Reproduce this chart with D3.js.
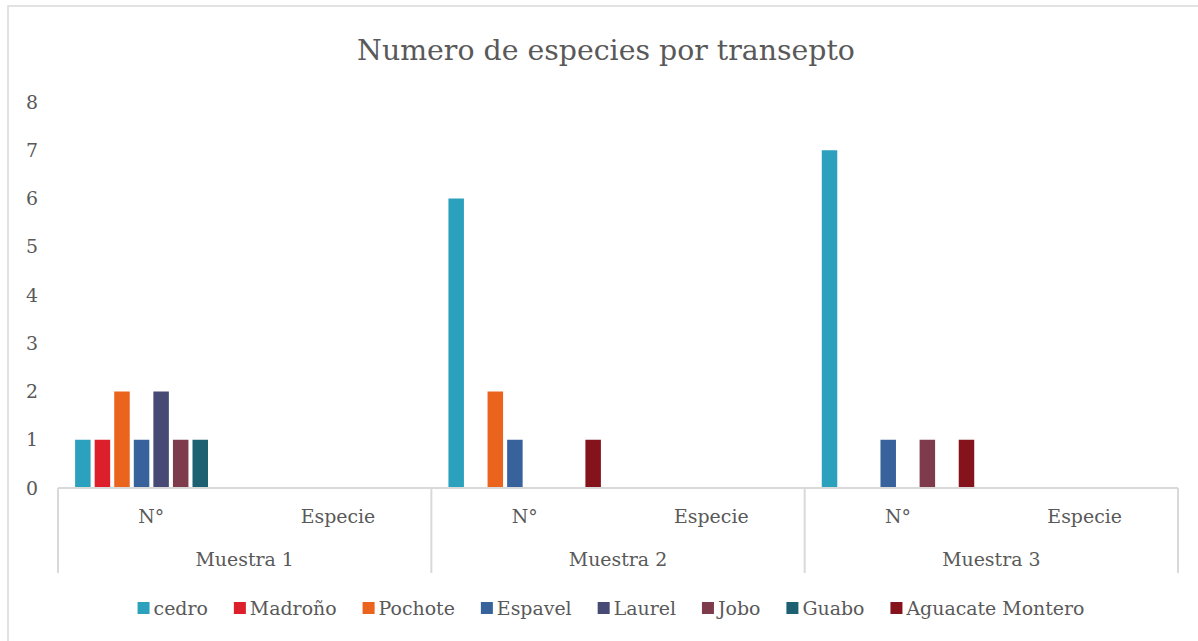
<!DOCTYPE html>
<html>
<head>
<meta charset="utf-8">
<script src="https://cdn.jsdelivr.net/npm/d3@7"></script>
<style>
  html, body { margin: 0; padding: 0; background: #fff; }
  svg { display: block; }
</style>
</head>
<body>
<svg id="chart" width="1198" height="641"></svg>
<script>
// muestras (outer level) and sub-categories (inner level)
const groups = ['Muestra 1', 'Muestra 2', 'Muestra 3'];
const subCats = ['N°', 'Especie'];

const series = ['cedro', 'Madroño', 'Pochote', 'Espavel', 'Laurel', 'Jobo', 'Guabo', 'Aguacate Montero'];
const colors = ['#2ca1be', '#dc1f2b', '#ea641e', '#38629b', '#464a75', '#7d3b4b', '#1c6072', '#84131b'];

// values per series, one per group (N° only; Especie rows are empty)
const cedro    = [1, 6, 7];
const madrono  = [1, null, null];
const pochote  = [2, 2, null];
const espavel  = [1, 1, 1];
const laurel   = [2, null, null];
const jobo     = [1, null, 1];
const guabo    = [1, null, null];
const aguacate = [null, 1, 1];
const seriesValues = [cedro, madrono, pochote, espavel, laurel, jobo, guabo, aguacate];

const yTicks = [0, 1, 2, 3, 4, 5, 6, 7, 8];

const svg = d3.select('#chart');
const textColor = '#595959';
const lineColor = '#d9d9d9';
const font = "'DejaVu Serif', 'Liberation Serif', serif";

// chart border (only top/left visible in the picture)
svg.append('path')
  .attr('d', 'M8,641 L8,6 L1198,6')
  .attr('fill', 'none')
  .attr('stroke', lineColor)
  .attr('stroke-width', 1.5);

// title - sized so its width matches the original (Garamond is narrow)
const title = svg.append('text')
  .attr('x', 606)
  .attr('y', 60)
  .attr('text-anchor', 'middle')
  .attr('font-family', font)
  .attr('font-size', '30px')
  .attr('fill', textColor)
  .text('Numero de especies por transepto');
const fit = Math.min(1.15, 498 / title.node().getComputedTextLength());
title.attr('font-size', (30 * fit) + 'px');
const labelSize = Math.min(19, 20 * fit) + 'px';

// scales
const plotLeft = 58, plotRight = 1178, plotBase = 488, plotTop = 102;
const cats = [];
groups.forEach(g => subCats.forEach(s => cats.push(g + '|' + s)));

const x0 = d3.scaleBand().domain(cats).range([plotLeft, plotRight]).padding(0);
const x1 = d3.scaleBand().domain(series).range([0, x0.bandwidth()])
  .paddingInner(0.208).paddingOuter(0.874);
const y = d3.scaleLinear().domain([0, 8]).range([plotBase, plotTop]);

// y tick labels (no gridlines)
svg.append('g').selectAll('text')
  .data(yTicks)
  .enter().append('text')
    .attr('x', 38)
    .attr('y', d => y(d))
    .attr('dy', '0.35em')
    .attr('text-anchor', 'end')
    .attr('font-family', font)
    .attr('font-size', labelSize)
    .attr('fill', textColor)
    .text(d => d);

// bars
const barData = [];
series.forEach((s, i) => {
  seriesValues[i].forEach((v, gi) => {
    if (v != null) barData.push({ series: s, cat: groups[gi] + '|N°', value: v, color: colors[i] });
  });
});

svg.append('g').selectAll('rect')
  .data(barData)
  .enter().append('rect')
    .attr('x', d => x0(d.cat) + x1(d.series))
    .attr('y', d => y(d.value))
    .attr('width', x1.bandwidth())
    .attr('height', d => plotBase - y(d.value))
    .attr('fill', d => d.color);

// category axis line
svg.append('line')
  .attr('x1', plotLeft).attr('x2', plotRight)
  .attr('y1', plotBase).attr('y2', plotBase)
  .attr('stroke', lineColor).attr('stroke-width', 2);

// group dividers
const groupScale = d3.scaleBand().domain(groups).range([plotLeft, plotRight]).padding(0);
const dividers = groups.map(g => groupScale(g)).concat([plotRight]);
svg.append('g').selectAll('line')
  .data(dividers)
  .enter().append('line')
    .attr('x1', d => d).attr('x2', d => d)
    .attr('y1', plotBase).attr('y2', 573)
    .attr('stroke', lineColor).attr('stroke-width', 2);

// inner labels
svg.append('g').selectAll('text')
  .data(cats)
  .enter().append('text')
    .attr('x', d => x0(d) + x0.bandwidth() / 2)
    .attr('y', 523)
    .attr('text-anchor', 'middle')
    .attr('font-family', font)
    .attr('font-size', labelSize)
    .attr('fill', textColor)
    .text(d => d.split('|')[1]);

// outer labels
svg.append('g').selectAll('text')
  .data(groups)
  .enter().append('text')
    .attr('x', d => groupScale(d) + groupScale.bandwidth() / 2)
    .attr('y', 566)
    .attr('text-anchor', 'middle')
    .attr('font-family', font)
    .attr('font-size', labelSize)
    .attr('fill', textColor)
    .text(d => d);

// legend, laid out by measured text widths and centered
const legend = svg.append('g');
const items = legend.selectAll('g')
  .data(series)
  .enter().append('g');
items.append('rect')
  .attr('width', 12).attr('height', 12)
  .attr('y', 602)
  .attr('fill', (d, i) => colors[i]);
items.append('text')
  .attr('x', 16)
  .attr('y', 615)
  .attr('font-family', font)
  .attr('font-size', labelSize)
  .attr('fill', textColor)
  .text(d => d);

let offset = 0;
const positions = [];
items.each(function () {
  positions.push(offset);
  const w = d3.select(this).select('text').node().getComputedTextLength();
  offset += 16 + w + 26;
});
const totalW = offset - 26;
const startX = 611 - totalW / 2;
items.attr('transform', (d, i) => `translate(${startX + positions[i]},0)`);
</script>
</body>
</html>
